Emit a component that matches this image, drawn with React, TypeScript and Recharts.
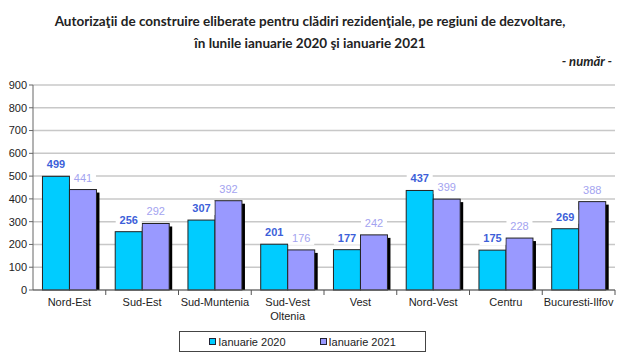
import { BarChart, Bar, XAxis, YAxis, CartesianGrid, LabelList } from 'recharts';

const categories = ['Nord-Est', 'Sud-Est', 'Sud-Muntenia', 'Sud-Vest\nOltenia', 'Vest', 'Nord-Vest', 'Centru', 'Bucuresti-Ilfov'];
const ian2020 = [499, 256, 307, 201, 177, 437, 175, 269];
const ian2021 = [441, 292, 392, 176, 242, 399, 228, 388];
const yTicks = [0, 100, 200, 300, 400, 500, 600, 700, 800, 900];
const seriesNames = ['Ianuarie 2020', 'Ianuarie 2021'];

const W = 640;
const H = 360;
const LEFT = 33;
const RIGHT = 25;
const BAND = (W - LEFT - RIGHT) / categories.length;
const FONT = "'Liberation Sans', Arial, sans-serif";

const chartData = categories.map((name, i) => ({
  name,
  y2020: ian2020[i],
  y2021: ian2021[i],
}));

const XTick = ({ x, y, payload, index }: any) => {
  const lines = String(payload.value).split('\n');
  return (
    <g>
      {index > 0 && <line x1={x - BAND / 2} x2={x - BAND / 2} y1={y} y2={y + 5} stroke="#555" />}
      {index === categories.length - 1 && (
        <line x1={x + BAND / 2} x2={x + BAND / 2} y1={y} y2={y + 5} stroke="#555" />
      )}
      {lines.map((l, i) => (
        <text key={i} x={x} y={y + 16 + i * 14} textAnchor="middle" fontSize={11} fontFamily={FONT} fill="#222">
          {l}
        </text>
      ))}
    </g>
  );
};

const ShadowBar = (props: any) => {
  const { x, y, width, height, fill } = props;
  if (!height) return null;
  return (
    <g>
      <rect x={x + 3} y={y + 3} width={width} height={Math.max(height - 3, 0)} fill="#000" />
      <rect x={x} y={y} width={width} height={height} fill={fill} stroke="#222" strokeWidth={1} />
    </g>
  );
};

const PlainBar = (props: any) => {
  const { x, y, width, height, fill } = props;
  return <rect x={x} y={y} width={width} height={height} fill={fill} stroke="#222" strokeWidth={1} />;
};

const makeLabel = (color: string, weight: string) => (props: any) => {
  const { x, y, width, value } = props;
  const cx = x + width / 2;
  return (
    <g>
      <rect x={cx - 13} y={y - 19} width={26} height={14} fill="#fff" />
      <text x={cx} y={y - 8} textAnchor="middle" fontSize={11} fontWeight={weight} fontFamily={FONT} fill={color}>
        {value}
      </text>
    </g>
  );
};

export default function App() {
  return (
    <div style={{ position: 'absolute', left: 0, top: 0, width: W, height: H, background: '#fff' }}>
      <div
        style={{
          position: 'absolute',
          left: 0,
          width: 620,
          top: 10,
          textAlign: 'center',
          fontFamily: 'Lato, sans-serif',
          fontWeight: 700,
          fontSize: 13.5,
          lineHeight: '22px',
          color: '#222',
        }}
      >
        Autorizaţii de construire eliberate pentru clădiri rezidenţiale, pe regiuni de dezvoltare,
        <br />
        în lunile ianuarie 2020 şi ianuarie 2021
      </div>
      <div
        style={{
          position: 'absolute',
          right: 28,
          top: 53,
          fontFamily: 'Lato, sans-serif',
          fontWeight: 700,
          fontStyle: 'italic',
          fontSize: 13,
          color: '#222',
        }}
      >
        - număr -
      </div>
      <BarChart
        width={W}
        height={H}
        data={chartData}
        margin={{ top: 85, right: RIGHT, left: 0, bottom: 0 }}
        barCategoryGap="13%"
        barGap={0}
      >
        <CartesianGrid vertical={false} stroke="#c8c8c8" strokeWidth={1.5} />
        <YAxis
          width={LEFT}
          domain={[0, 900]}
          ticks={yTicks}
          interval={0}
          tickSize={4}
          tick={{ fontSize: 11, fontFamily: FONT, fill: '#222' }}
          axisLine={{ stroke: '#666' }}
          tickLine={{ stroke: '#666' }}
        />
        <XAxis
          dataKey="name"
          height={70}
          interval={0}
          tickSize={0}
          tickMargin={0}
          tickLine={false}
          axisLine={{ stroke: '#555' }}
          tick={<XTick />}
        />
        <Bar dataKey="y2020" name={seriesNames[0]} fill="#00ccff" shape={<PlainBar />} isAnimationActive={false}>
          <LabelList dataKey="y2020" content={makeLabel('#3d5fd9', 'bold')} />
        </Bar>
        <Bar dataKey="y2021" name={seriesNames[1]} fill="#9999ff" shape={<ShadowBar />} isAnimationActive={false}>
          <LabelList dataKey="y2021" content={makeLabel('#a3a3f0', 'normal')} />
        </Bar>
      </BarChart>
      <div
        style={{
          position: 'absolute',
          left: 179,
          top: 331,
          width: 245,
          height: 19,
          border: '1px solid #444',
          display: 'flex',
          alignItems: 'center',
          justifyContent: 'center',
          gap: 34,
          fontFamily: FONT,
          fontSize: 11,
          color: '#222',
        }}
      >
        {seriesNames.map((n, i) => (
          <span key={n} style={{ display: 'flex', alignItems: 'center' }}>
            <span
              style={{
                display: 'inline-block',
                width: 5,
                height: 5,
                border: '1px solid #223',
                background: i === 0 ? '#00ccff' : '#9999ff',
                marginRight: 2,
              }}
            />
            {n}
          </span>
        ))}
      </div>
    </div>
  );
}
